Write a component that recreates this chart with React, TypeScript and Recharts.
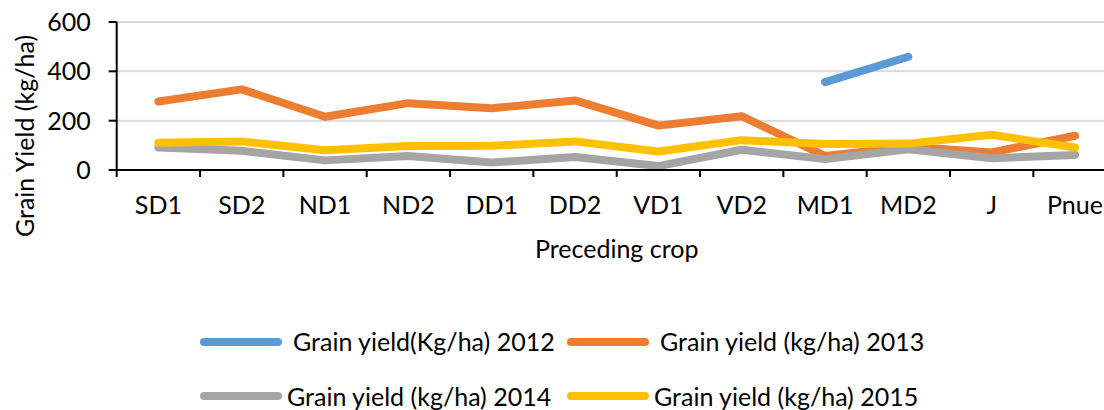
import { LineChart, Line, XAxis, YAxis, CartesianGrid } from 'recharts';

const crops = ['SD1', 'SD2', 'ND1', 'ND2', 'DD1', 'DD2', 'VD1', 'VD2', 'MD1', 'MD2', 'J', 'Pnue'];
const yield2012 = [null, null, null, null, null, null, null, null, 356, 459, null, null];
const yield2013 = [278, 327, 216, 271, 250, 282, 180, 218, 57, 94, 71, 139];
const yield2014 = [91, 78, 39, 57, 30, 53, 16, 82, 44, 84, 48, 61];
const yield2015 = [110, 116, 80, 97, 98, 116, 75, 121, 105, 107, 143, 91];
const yTicks = [0, 200, 400, 600];

const series = [
  { key: 'y2012', name: 'Grain yield(Kg/ha) 2012', color: '#5B9BD5' },
  { key: 'y2013', name: 'Grain yield (kg/ha) 2013', color: '#ED7D31' },
  { key: 'y2014', name: 'Grain yield (kg/ha) 2014', color: '#A5A5A5' },
  { key: 'y2015', name: 'Grain yield (kg/ha) 2015', color: '#FFC000' },
];

const data = crops.map((name, i) => ({
  name,
  y2012: yield2012[i],
  y2013: yield2013[i],
  y2014: yield2014[i],
  y2015: yield2015[i],
}));

const FONT = 'Lato, "Open Sans", sans-serif';
const FS = 25;

// plot spans x 116.7..1116.7 (right part cropped by the page), y 22..170
const PLOT_LEFT = 116.7;
const PLOT_W = 1000;
const PLOT_BOTTOM = 170;
const BAND = PLOT_W / crops.length;

// legend placement: [swatchLeft, textLeft, centerY]
const legendPos = [
  [200, 293, 341.5],
  [567, 660, 341.5],
  [200, 287, 396],
  [567, 654, 396],
];

// category label at the tick, tick marks on the category boundaries (Excel style)
function CropTick(props: any) {
  const { x, y, payload, index } = props;
  const last = index === crops.length - 1;
  return (
    <g>
      <line x1={x - BAND / 2} x2={x - BAND / 2} y1={PLOT_BOTTOM} y2={PLOT_BOTTOM + 7} stroke="#000" strokeWidth={2} />
      {last && (
        <line x1={x + BAND / 2} x2={x + BAND / 2} y1={PLOT_BOTTOM} y2={PLOT_BOTTOM + 7} stroke="#000" strokeWidth={2} />
      )}
      <text x={x} y={y} dy="0.71em" textAnchor="middle" fill="#000" fontSize={FS} fontFamily={FONT}>
        {payload.value}
      </text>
    </g>
  );
}

export default function App() {
  return (
    <div
      style={{
        position: 'absolute',
        left: 0,
        top: 0,
        width: 1104,
        height: 410,
        overflow: 'hidden',
        background: '#fff',
        fontFamily: FONT,
        color: '#000',
      }}
    >
      <LineChart
        width={PLOT_LEFT + PLOT_W + 3.3}
        height={300}
        data={data}
        margin={{ top: 22, right: 3.3, bottom: 0, left: PLOT_LEFT - 60 }}
      >
        <CartesianGrid vertical={false} stroke="#D9D9D9" strokeWidth={2} />
        <XAxis
          dataKey="name"
          height={300 - PLOT_BOTTOM}
          padding={{ left: BAND / 2, right: BAND / 2 }}
          interval={0}
          tickLine={false}
          tickSize={7}
          tickMargin={19}
          axisLine={{ stroke: '#000', strokeWidth: 2 }}
          tick={<CropTick />}
          label={{ value: 'Preceding crop', position: 'insideBottom', offset: 42, fill: '#000', fontSize: FS, fontFamily: FONT }}
        />
        <YAxis
          width={60}
          domain={[0, 600]}
          ticks={yTicks}
          tickSize={8}
          tickMargin={18}
          tickLine={{ stroke: '#000', strokeWidth: 2 }}
          axisLine={{ stroke: '#000', strokeWidth: 2 }}
          tick={{ fill: '#000', fontSize: FS, fontFamily: FONT }}
        />
        {series.map((s) => (
          <Line
            key={s.key}
            type="linear"
            dataKey={s.key}
            name={s.name}
            stroke={s.color}
            strokeWidth={8}
            strokeLinecap="round"
            strokeLinejoin="round"
            dot={false}
            activeDot={false}
            isAnimationActive={false}
          />
        ))}
      </LineChart>

      <div
        style={{
          position: 'absolute',
          left: 23.5,
          top: 136,
          transform: 'translate(-50%, -50%) rotate(-90deg)',
          whiteSpace: 'nowrap',
          fontSize: FS,
          lineHeight: '30px',
        }}
      >
        Grain Yield (kg/ha)
      </div>

      {series.map((s, i) => {
        const [sx, tx, cy] = legendPos[i];
        return (
          <div key={s.key}>
            <div
              style={{
                position: 'absolute',
                left: sx,
                top: cy - 4,
                width: 82,
                height: 8,
                borderRadius: 4,
                background: s.color,
              }}
            />
            <div
              style={{
                position: 'absolute',
                left: tx,
                top: cy - 15.5,
                height: 30,
                lineHeight: '30px',
                fontSize: FS,
                whiteSpace: 'nowrap',
              }}
            >
              {s.name}
            </div>
          </div>
        );
      })}
    </div>
  );
}
